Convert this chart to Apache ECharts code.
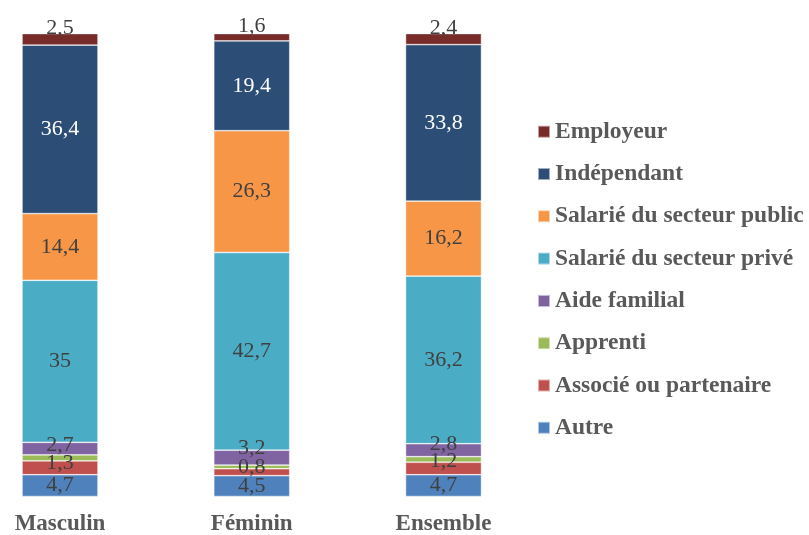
<!DOCTYPE html>
<html>
<head>
<meta charset="utf-8">
<script src="https://cdn.jsdelivr.net/npm/echarts@6/dist/echarts.min.js"></script>
<style>html,body{margin:0;padding:0;background:#fff}#c{width:809px;height:535px}</style>
</head>
<body>
<div id="c"></div>
<script>
var categories = ['Masculin', 'Féminin', 'Ensemble'];
var autre = [4.7, 4.5, 4.7];
var associe = [3.0, 1.5, 2.7];
var apprenti = [1.3, 0.8, 1.2];
var aideFamilial = [2.7, 3.2, 2.8];
var salariePrive = [35, 42.7, 36.2];
var salariePublic = [14.4, 26.3, 16.2];
var independant = [36.4, 19.4, 33.8];
var employeur = [2.5, 1.6, 2.4];
var legendOrder = ['Employeur', 'Indépendant', 'Salarié du secteur public', 'Salarié du secteur privé', 'Aide familial', 'Apprenti', 'Associé ou partenaire', 'Autre'];

var FONT = '"Liberation Serif", "Times New Roman", serif';
var seriesDefs = [
  {name: 'Autre', data: autre, color: '#4F81BD', label: true, txt: '#404040', off: [[0,0],[0,0],[0,0]]},
  {name: 'Associé ou partenaire', data: associe, color: '#C0504D', label: false, txt: '#404040', off: [[0,0],[0,0],[0,0]]},
  {name: 'Apprenti', data: apprenti, color: '#9BBB59', label: true, txt: '#404040', off: [[0,5],[0,0],[0,2]]},
  {name: 'Aide familial', data: aideFamilial, color: '#8064A2', label: true, txt: '#404040', off: [[0,-3],[0,-9],[0,-6]]},
  {name: 'Salarié du secteur privé', data: salariePrive, color: '#4BACC6', label: true, txt: '#404040', off: [[0,0],[0,0],[0,0]]},
  {name: 'Salarié du secteur public', data: salariePublic, color: '#F79646', label: true, txt: '#404040', off: [[0,0],[0,0],[0,0]]},
  {name: 'Indépendant', data: independant, color: '#2C4D75', label: true, txt: '#ffffff', off: [[0,0],[0,0],[0,0]]},
  {name: 'Employeur', data: employeur, color: '#772C2A', label: true, txt: '#404040', off: [[0,-11],[0,-11],[0,-11]]}
];

var series = seriesDefs.map(function (s) {
  return {
    name: s.name,
    type: 'bar',
    stack: 'total',
    barWidth: 76,
    clip: false,
    itemStyle: {color: s.color, borderColor: 'rgba(255,255,255,0.55)', borderWidth: 0.75},
    data: s.data.map(function (v, i) {
      return {value: v, label: {offset: s.off[i]}};
    }),
    label: {
      show: s.label,
      position: 'inside',
      color: s.txt,
      fontFamily: FONT,
      fontSize: 22,
      formatter: function (p) { return String(p.value).replace('.', ','); }
    }
  };
});

var chart = echarts.init(document.getElementById('c'), null, {renderer: 'canvas'});
chart.setOption({
  animation: false,
  backgroundColor: '#ffffff',
  grid: {left: 60, right: 365.5, top: 33.5, bottom: 38.5, containLabel: false, outerBoundsMode: 'none'},
  xAxis: {
    type: 'category',
    data: categories,
    boundaryGap: false,
    axisLine: {show: false},
    axisTick: {show: false},
    splitLine: {show: false},
    axisLabel: {color: '#595959', fontFamily: FONT, fontWeight: 'bold', fontSize: 23, margin: 16}
  },
  yAxis: {type: 'value', min: 0, max: 100, show: false, splitLine: {show: false}},
  legend: {
    data: legendOrder,
    orient: 'vertical',
    left: 537,
    top: 119.7,
    padding: 0,
    itemWidth: 12,
    itemHeight: 12,
    itemGap: 18.3,
    icon: 'rect',
    textStyle: {color: '#595959', fontFamily: FONT, fontWeight: 'bold', fontSize: 23.5, lineHeight: 24}
  },
  series: series
});
</script>
</body>
</html>
